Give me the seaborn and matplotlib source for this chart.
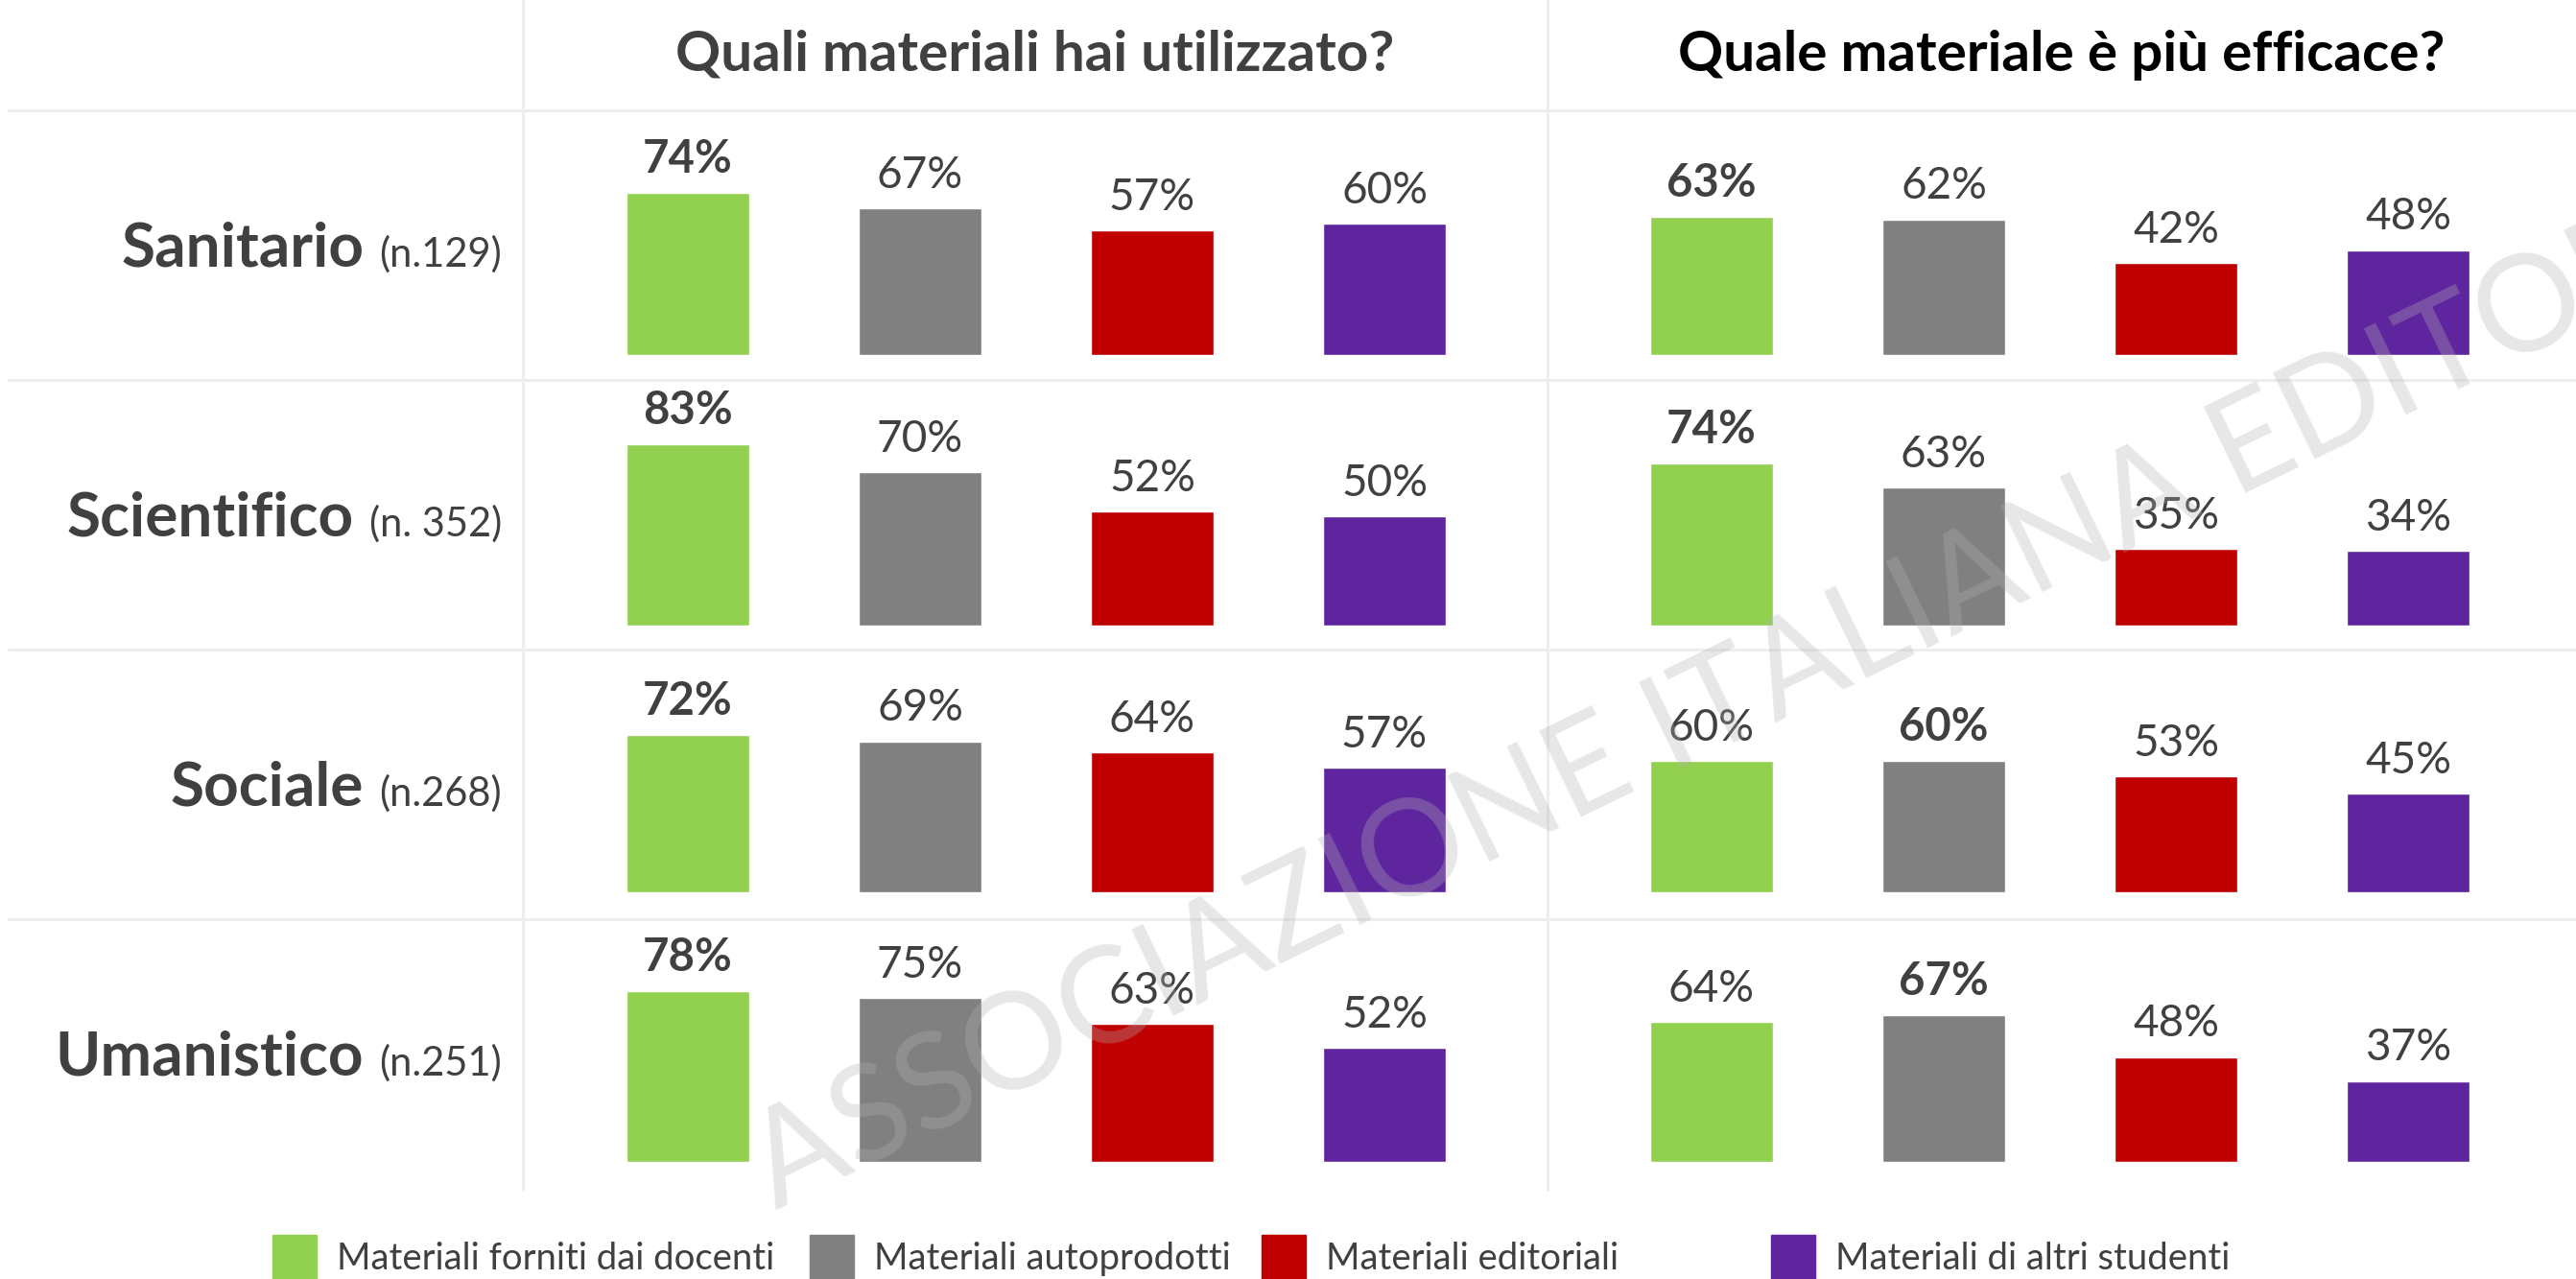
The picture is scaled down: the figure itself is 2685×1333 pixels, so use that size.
import matplotlib
matplotlib.use("Agg")
import matplotlib.pyplot as plt
from matplotlib.lines import Line2D
from matplotlib.patches import Rectangle
import seaborn as sns
import pandas as pd

# --- data -------------------------------------------------------------
fields = ["Sanitario", "Scientifico", "Sociale", "Umanistico"]
sample_sizes = ["(n.129)", "(n. 352)", "(n.268)", "(n.251)"]
materials = ["Materiali forniti dai docenti", "Materiali autoprodotti",
             "Materiali editoriali", "Materiali di altri studenti"]
colors = ["#92d050", "#808080", "#c00000", "#5f259f"]

titles = ["Quali materiali hai utilizzato?", "Quale materiale è più efficace?"]

used_pct = [[74, 67, 57, 60],
            [83, 70, 52, 50],
            [72, 69, 64, 57],
            [78, 75, 63, 52]]
effective_pct = [[63, 62, 42, 48],
                 [74, 63, 35, 34],
                 [60, 60, 53, 45],
                 [64, 67, 48, 37]]
# which bar label is bold in each row
used_bold = [0, 0, 0, 0]
effective_bold = [0, 0, 1, 1]

# --- layout (pixels) --------------------------------------------------
W, H = 2685, 1333
DPI = 100
FONT = "Lato"
DARK = "#404040"

sns.set_theme(style="white")
plt.rcParams["font.family"] = [FONT, "DejaVu Sans"]

fig = plt.figure(figsize=(W / DPI, H / DPI), dpi=DPI)


def fx(px):
    return px / W


def fy(py):
    return 1 - py / H


row_top = [115, 396, 677, 958]
row_h = 281
baselines = [370, 652, 930, 1211]
px_per_pct = 2.28
panel_left = [596, 1663]
slot = 242

# grid lines
for y in row_top:
    fig.add_artist(Line2D([fx(9), 1], [fy(y), fy(y)], color="#eeeeee", lw=2.2))
for x in (545, 1613):
    fig.add_artist(Line2D([fx(x), fx(x)], [1, fy(1240)], color="#eeeeee", lw=2.2))

# panel titles
fig.text(fx(1079), fy(57), titles[0], ha="center", va="center",
         fontsize=42, fontweight="bold", color=DARK)
fig.text(fx(2149), fy(57), titles[1], ha="center", va="center",
         fontsize=42, fontweight="bold", color="black")

# bars
for p, (data, bold) in enumerate([(used_pct, used_bold), (effective_pct, effective_bold)]):
    for r in range(len(fields)):
        ax = fig.add_axes([fx(panel_left[p]), fy(baselines[r]),
                           4 * slot / W, 100 * px_per_pct / H])
        df = pd.DataFrame({"materiale": materials, "pct": data[r]})
        sns.barplot(data=df, x="materiale", y="pct", hue="materiale",
                    order=materials, hue_order=materials, palette=colors,
                    saturation=1, width=0.53, legend=False, ax=ax)
        ax.set_xlim(-0.5, 3.5)
        ax.set_ylim(0, 100)
        ax.axis("off")
        for i, v in enumerate(data[r]):
            is_bold = i == bold[r]
            ax.text(i, v + 9.3, f"{v}%", ha="center", va="baseline",
                    fontsize=34 if is_bold else 33, color=DARK,
                    fontweight="bold" if is_bold else "normal")

# row labels
renderer = fig.canvas.get_renderer()
for r, (name, n) in enumerate(zip(fields, sample_sizes)):
    yb = fy(row_top[r] + row_h / 2 + 22)
    t = fig.text(fx(523), yb, n, ha="right", va="baseline",
                 fontsize=30, color=DARK)
    wpx = t.get_window_extent(renderer).width
    fig.text(fx(523 - wpx - 16), yb, name, ha="right", va="baseline",
             fontsize=46, fontweight="bold", color=DARK)

# legend
leg_x = [284, 844, 1315, 1846]
for x, c, lab in zip(leg_x, colors, materials):
    fig.add_artist(Rectangle((fx(x), 0), 46 / W, 46 / H, color=c,
                             transform=fig.transFigure))
    fig.text(fx(x + 67), fy(1323), lab, ha="left", va="baseline",
             fontsize=27.5, color=DARK)

# watermark
fig.text(fx(809), fy(1261), "ASSOCIAZIONE ITALIANA EDITORI",
         ha="left", va="baseline", rotation=26, rotation_mode="anchor",
         fontsize=100, fontweight="normal", color="#b2b2b2", alpha=0.31,
         zorder=10)

fig.savefig("out.png", dpi=DPI)
